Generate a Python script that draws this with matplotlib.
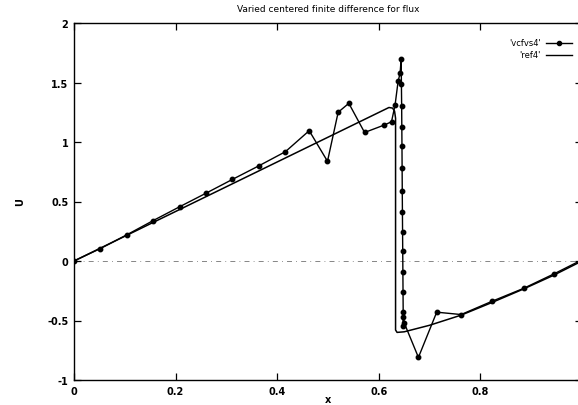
import matplotlib
matplotlib.use("Agg")
import matplotlib.pyplot as plt
from matplotlib.lines import Line2D

# vcfvs4 series (variable mesh)
vc_x = [0.0, 0.052, 0.104, 0.156, 0.208, 0.260, 0.312, 0.364, 0.416,
        0.463, 0.499, 0.520, 0.541, 0.572, 0.611, 0.625, 0.632,
        0.638, 0.642, 0.644, 0.6445, 0.6450, 0.6453, 0.6456, 0.6459,
        0.6462, 0.6465, 0.6468, 0.6471, 0.6474, 0.6477, 0.6480, 0.6483,
        0.6486, 0.650, 0.678, 0.714, 0.762, 0.822, 0.885, 0.944, 1.0]
vc_u = [0.0, 0.105, 0.22, 0.34, 0.456, 0.57, 0.686, 0.80, 0.918,
        1.095, 0.838, 1.25, 1.325, 1.08, 1.143, 1.17, 1.31,
        1.51, 1.58, 1.70, 1.49, 1.30, 1.13, 0.97, 0.78,
        0.59, 0.41, 0.24, 0.08, -0.09, -0.26, -0.43, -0.55,
        -0.47, -0.52, -0.81, -0.43, -0.45, -0.34, -0.23, -0.11, 0.01]

# ref4 reference solution
ref_x = [0.0, 0.620, 0.627, 0.631, 0.633, 0.633, 0.636, 0.650, 0.700,
         0.762, 0.822, 0.885, 0.944, 1.0]
ref_u = [0.0, 1.29, 1.285, 1.26, 1.20, -0.58, -0.60, -0.595, -0.54,
         -0.455, -0.35, -0.235, -0.12, 0.0]

x_ticks = [0, 0.2, 0.4, 0.6, 0.8]
x_tick_labels = ["0", "0.2", "0.4", "0.6", "0.8"]
y_ticks = [-1, -0.5, 0, 0.5, 1, 1.5, 2]
y_tick_labels = ["-1", "-0.5", "0", "0.5", "1", "1.5", "2"]
legend_labels = ["'vcfvs4'", "'ref4'"]

plt.rcParams['font.family'] = ['DejaVu Sans']

fig = plt.figure(figsize=(5.78, 4.06), dpi=100)
W, H = 578, 406
left, right, top, bottom = 74, 582, 24, 381
ax = fig.add_axes([left / W, 1 - bottom / H, (right - left) / W, (bottom - top) / H])

ax.axhline(0, color='0.45', lw=0.6, ls=(0, (6, 5, 1, 5)), zorder=1)
ax.plot(ref_x, ref_u, color='black', lw=1.1, zorder=2)
ax.plot(vc_x, vc_u, color='black', lw=1.0, marker='o', markersize=3.2, zorder=3)

ax.set_xlim(0, 1)
ax.set_ylim(-1, 2)
ax.set_xticks(x_ticks)
ax.set_xticklabels(x_tick_labels)
ax.set_yticks(y_ticks)
ax.set_yticklabels(y_tick_labels)
ax.tick_params(direction='in', length=5, width=0.9, top=True, right=True,
               labelsize=7, pad=4)
for lbl in ax.get_xticklabels() + ax.get_yticklabels():
    lbl.set_fontweight('bold')
for s in ax.spines.values():
    s.set_linewidth(1.0)

ax.set_title("Varied centered finite difference for flux", fontsize=6.5, pad=9)
ax.set_xlabel("x", fontsize=7, fontweight='bold', labelpad=-1)
ax.set_ylabel("U", fontsize=7, fontweight='bold', labelpad=16)

# gnuplot-style key: right-aligned labels followed by line samples
for i, lab in enumerate(legend_labels):
    ypix = 44 + 12 * i
    yf = 1 - ypix / H
    fig.text(541 / W, yf, lab, ha='right', va='center', fontsize=6)
    if i == 0:
        ln = Line2D([546 / W, 572 / W], [yf, yf], transform=fig.transFigure,
                    color='black', lw=1.0)
        mk = Line2D([559 / W], [yf], transform=fig.transFigure, color='black',
                    marker='o', markersize=3)
        fig.add_artist(ln)
        fig.add_artist(mk)
    else:
        ln = Line2D([546 / W, 572 / W], [yf, yf], transform=fig.transFigure,
                    color='black', lw=1.0)
        fig.add_artist(ln)

fig.savefig("out.png", dpi=100)
